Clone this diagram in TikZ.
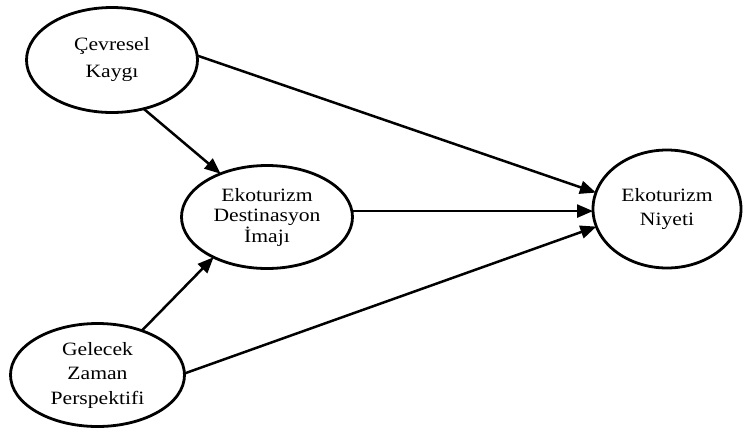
\documentclass[tikz,border=0pt]{standalone}
\usepackage{fontspec}
\setmainfont{Liberation Serif}[FakeStretch=1.15]
\usetikzlibrary{arrows.meta,shapes.geometric}
\begin{document}
\begin{tikzpicture}[x=1pt,y=-1pt,
  var/.style={ellipse, draw, line width=2.8pt, inner sep=0pt, outer sep=0pt, align=center,
              font=\fontsize{18.8}{20.5}\selectfont},
  link/.style={line width=2.5pt, -{Triangle[length=16pt,width=13pt]}}]
\useasboundingbox (0,0) rectangle (744,429);
\node[var, minimum width=171pt, minimum height=105pt] (c) at (112,60) {\raisebox{6pt}{\begin{tabular}{@{}c@{}}Çevresel\\[6pt]Kaygı\end{tabular}}};
\node[var, minimum width=171pt, minimum height=103pt] (d) at (267,217) {Ekoturizm\\Destinasyon\\İmajı};
\node[var, minimum width=148pt, minimum height=118pt] (n) at (667,209) {Ekoturizm\\[3pt]Niyeti};
\node[var, minimum width=174pt, minimum height=103pt] (g) at (97.5,375) {Gelecek\\[4pt]Zaman\\[4pt]Perspektifi};
\draw[link] (c.-57) -- (d.137);
\draw[link] (g.45) -- (d.-143);
\draw[link] (c.3) -- (n.167);
\draw[link] (d.4) -- (d.4 -| n.west);
\draw[link] (g.1.5) -- (n.194);
\end{tikzpicture}
\end{document}
